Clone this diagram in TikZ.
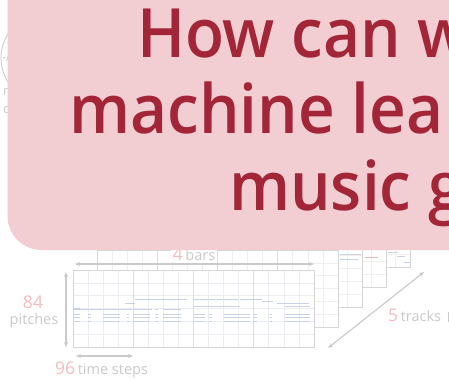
\documentclass[tikz,border=0pt]{standalone}
\usepackage{fontspec}
\setmainfont{Open Sans}
\IfFontExistsTF{Open Sans SemiBold}
  {\newfontfamily\titlefont{Open Sans SemiBold}[FakeStretch=0.94]}
  {\IfFontExistsTF{Open Sans Semibold}
    {\newfontfamily\titlefont{Open Sans Semibold}[FakeStretch=0.94]}
    {\newfontfamily\titlefont{Open Sans}[UprightFont=* Bold, FakeStretch=0.94]}}
\usetikzlibrary{arrows.meta}
\definecolor{boxpink}{RGB}{242,205,210}
\definecolor{titlered}{RGB}{163,38,56}
\definecolor{fadegray}{RGB}{202,202,202}
\definecolor{fadepink}{RGB}{243,188,194}
\definecolor{gridblue}{RGB}{234,238,243}
\definecolor{gridwarm}{RGB}{244,238,235}
\definecolor{majorline}{RGB}{222,222,224}
\definecolor{framecol}{RGB}{214,214,214}
\definecolor{notecol}{RGB}{200,210,226}
\definecolor{notered}{RGB}{232,186,192}
\tikzset{
  dimarrow/.style={fadegray, line width=1.1pt, {Stealth[length=5pt,width=4pt]}-{Stealth[length=5pt,width=4pt]}},
  numlabel/.style={text=fadepink, font=\fontsize{17.5}{17.5}\selectfont, inner sep=0pt},
  wordlabel/.style={text=fadegray, font=\fontsize{14.5}{14.5}\selectfont, inner sep=0pt},
  titleline/.style={text=titlered, font=\titlefont\fontsize{68}{68}\selectfont, anchor=base west, inner sep=0pt},
  panelframe/.style={framecol, line width=0.8pt},
  note/.style={notecol, line width=0.7pt},
}
\begin{document}
\begin{tikzpicture}[x=1pt,y=-1pt]
\useasboundingbox (0,0) rectangle (449,378);
\clip (0,0) rectangle (449,378);
\fill[white] (0,0) rectangle (449,378);

% logo ring and its caption, mostly under the title box
\draw[fadegray, line width=0.8pt] (46,58) circle (45);
\node[text=fadegray, font=\fontsize{12}{12}\selectfont, inner sep=0pt] (logomark) at (8,57) {-A};
\node[text=fadegray, font=\fontsize{13}{13}\selectfont, inner sep=0pt] (logocapa) at (7,92) {n};
\node[text=fadegray, font=\fontsize{13}{13}\selectfont, inner sep=0pt] (logocapb) at (7,110) {o};

% stacked piano-roll tracks, back to front
\foreach \k in {4,3,2,1} {
  \begin{scope}[shift={(24*\k,-20*\k)}]
    \fill[white] (73,270) rectangle (314,347);
    \foreach \i in {1,...,15} \draw[gridwarm, line width=0.6pt] (73+15.06*\i,270) -- (73+15.06*\i,347);
    \foreach \j in {1,...,5} \draw[gridwarm, line width=0.6pt] (73,270+12.83*\j) -- (314,270+12.83*\j);
    \foreach \i in {4,8,12} \draw[majorline, line width=0.7pt] (73+15.06*\i,270) -- (73+15.06*\i,347);
    \draw[panelframe] (73,270) rectangle (314,347);
  \end{scope}
}
% notes peeking out of the rear tracks
\draw[note] (340,254) -- (361,254);
\draw[note] (340,259) -- (358,259);
\draw[notered, line width=0.7pt] (365,257) -- (378,257);
\draw[note] (388,252) -- (398,252);
\draw[note] (397,256) -- (405,256);
\draw[note] (404,262) -- (410,262);

% front track
\fill[white] (73,270) rectangle (314,347);
\foreach \i in {1,...,15} \draw[gridblue, line width=0.6pt] (73+15.06*\i,270) -- (73+15.06*\i,347);
\foreach \j in {1,...,5} \draw[gridblue, line width=0.6pt] (73,270+12.83*\j) -- (314,270+12.83*\j);
\foreach \i in {4,8,12} \draw[majorline, line width=0.7pt] (73+15.06*\i,270) -- (73+15.06*\i,347);
% notes of the front track
\draw[note] (74,308) -- (80,308);
\draw[note] (74,309.5) -- (132,309.5);
\draw[note] (125,303) -- (135,303);
\draw[note] (135,299) -- (187,299);
\draw[note] (133,309.5) -- (152,309.5);
\draw[note] (155,309.5) -- (158,309.5);
\draw[note] (163,309.5) -- (181,309.5);
\foreach \y in {314,317.5,321} {
  \draw[note] (74,\y) -- (80,\y);
  \draw[note] (88,\y) -- (91,\y);
  \draw[note] (103,\y) -- (120,\y);
  \draw[note] (127,\y) -- (129,\y);
  \draw[note] (133,\y) -- (150,\y);
  \draw[note] (155,\y) -- (158,\y);
  \draw[note] (163,\y) -- (181,\y);
  \draw[note] (194,\y) -- (205,\y);
  \draw[note] (209,\y) -- (212,\y);
  \draw[note] (224,\y) -- (250,\y);
  \draw[note] (254,\y) -- (257,\y);
  \draw[note] (270,\y) -- (272,\y);
  \draw[note] (285,\y) -- (310,\y);
}
\draw[note] (194,299) -- (215,299);
\draw[note] (217,299) -- (238,299);
\draw[note] (240,299) -- (262,299);
\draw[note] (262,301) -- (273,301);
\draw[note] (277,303) -- (309,303);
\draw[note] (194,306) -- (240,306);
\draw[note] (285,306) -- (310,306);
\draw[panelframe] (73,270) rectangle (314,347);

% dimension arrows
\coordinate (barsL) at (75,264);
\coordinate (barsR) at (314,264);
\draw[dimarrow] (barsL) -- (barsR);
\node[fill=white, inner sep=2pt, anchor=base] (barslabel) at (194,260)
  {\textcolor{fadepink}{\fontsize{17.5}{17.5}\selectfont 4} \textcolor{fadegray}{\fontsize{14.5}{14.5}\selectfont bars}};

\coordinate (pitchT) at (66,272);
\coordinate (pitchB) at (66,347);
\draw[dimarrow] (pitchT) -- (pitchB);
\node[numlabel, anchor=base] (pitchnum) at (33,308) {84};
\node[wordlabel, anchor=base] (pitchword) at (34,324) {pitches};

\coordinate (stepL) at (76,356);
\coordinate (stepR) at (133,356);
\draw[dimarrow] (stepL) -- (stepR);
\node[inner sep=0pt, anchor=base west] (steplabel) at (55,374)
  {\textcolor{fadepink}{\fontsize{17.5}{17.5}\selectfont 96} \textcolor{fadegray}{\fontsize{14.5}{14.5}\selectfont time steps}};

\coordinate (trackA) at (328,348);
\coordinate (trackB) at (424,272);
\draw[dimarrow] (trackA) -- (trackB);
\node[inner sep=0pt, anchor=base west] (tracklabel) at (388,321)
  {\textcolor{fadepink}{\fontsize{17.5}{17.5}\selectfont 5} \textcolor{fadegray}{\fontsize{14.5}{14.5}\selectfont tracks}};
\draw[fadegray, line width=0.8pt] (448,312) -- (448,322);

% title box
\fill[boxpink, rounded corners=34pt] (7.5,-60) rectangle (520,250);
\node[titleline] (titleA) at (137,57) {How can w};
\node[titleline] (titleB) at (69,133) {machine lea};
\node[titleline] (titleC) at (229,210) {music g};
\end{tikzpicture}
\end{document}
